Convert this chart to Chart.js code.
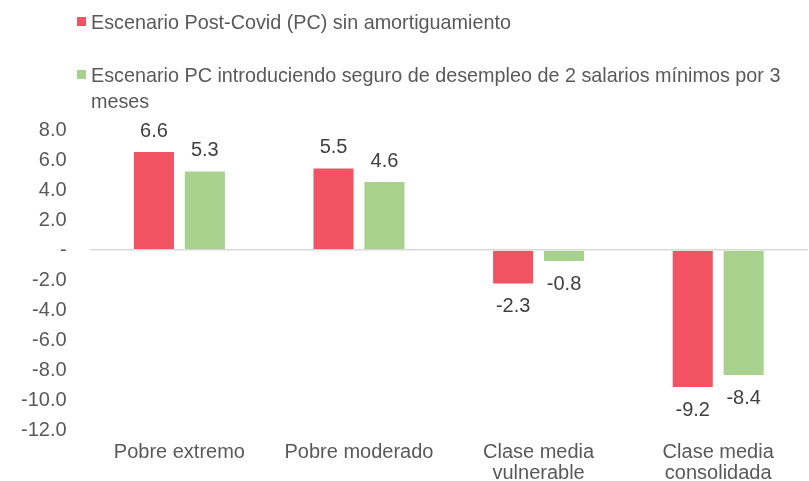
<!DOCTYPE html>
<html><head><meta charset="utf-8">
<script src="https://cdn.jsdelivr.net/npm/chart.js@4/dist/chart.umd.min.js"></script>
<style>
html,body{margin:0;padding:0;background:#fff;}
#wrap{position:relative;width:809px;height:481px;font-family:"Liberation Sans",Arial,sans-serif;color:#595959;}
canvas{position:absolute;left:0;top:0;}
.lg{position:absolute;font-size:19.8px;line-height:26px;color:#595959;}
.sw{position:absolute;width:9px;height:9px;}
</style></head>
<body><div id="wrap">
<canvas id="c" width="809" height="481"></canvas>
<div class="sw" id="sw1" style="left:77px;top:17px;"></div>
<div class="lg" id="lg1" style="left:91px;top:9px;width:710px;"></div>
<div class="sw" id="sw2" style="left:77px;top:70px;"></div>
<div class="lg" id="lg2" style="left:91px;top:62px;width:710px;"></div>
</div>
<script>
const categories = [["Pobre extremo"], ["Pobre moderado"], ["Clase media","vulnerable"], ["Clase media","consolidada"]];
const seriesNames = ["Escenario Post-Covid (PC) sin amortiguamiento", "Escenario PC introduciendo seguro de desempleo de 2 salarios mínimos por 3 meses"];
const postCovid = [6.6, 5.5, -2.3, -9.2];
const conSeguro = [5.3, 4.6, -0.8, -8.4];
const colors = ["#F25363", "#A9D18E"];

document.getElementById('lg1').textContent = seriesNames[0];
document.getElementById('lg2').textContent = seriesNames[1];
document.getElementById('sw1').style.background = colors[0];
document.getElementById('sw2').style.background = colors[1];

const FONT = '"Liberation Sans", Arial, sans-serif';
const valueLabels = {
  id: 'valueLabels',
  afterDatasetsDraw(chart) {
    const ctx = chart.ctx;
    ctx.save();
    ctx.font = '20px ' + FONT;
    ctx.fillStyle = '#404040';
    ctx.textAlign = 'center';
    ctx.textBaseline = 'middle';
    chart.data.datasets.forEach((ds, i) => {
      chart.getDatasetMeta(i).data.forEach((bar, j) => {
        const v = ds.data[j];
        const y = v >= 0 ? bar.y - 20 : bar.y + 22;
        ctx.fillText(v.toFixed(1), bar.x, y);
      });
    });
    ctx.restore();
  }
};

new Chart(document.getElementById('c'), {
  type: 'bar',
  data: {
    labels: categories,
    datasets: [
      { label: seriesNames[0], data: postCovid, backgroundColor: colors[0], borderColor: '#ffffff', borderWidth: 1, categoryPercentage: 0.567, barPercentage: 0.826 },
      { label: seriesNames[1], data: conSeguro, backgroundColor: colors[1], borderColor: '#ffffff', borderWidth: 1, categoryPercentage: 0.567, barPercentage: 0.826 }
    ]
  },
  options: {
    responsive: false,
    animation: false,
    layout: { padding: { top: 130, right: 1, left: -2, bottom: -15 } },
    plugins: { legend: { display: false }, tooltip: { enabled: false } },
    scales: {
      x: {
        grid: { display: false, drawTicks: false },
        border: { display: false },
        ticks: { color: '#595959', font: { family: FONT, size: 20, lineHeight: 1.05 }, padding: 12, maxRotation: 0 }
      },
      y: {
        min: -12, max: 8,
        grid: { color: (c) => c.tick && c.tick.value === 0 ? '#D9D9D9' : 'rgba(0,0,0,0)', lineWidth: 1.5, drawTicks: false },
        border: { display: false },
        ticks: { stepSize: 2, color: '#595959', font: { family: FONT, size: 20 }, padding: 23,
          callback: (v) => v === 0 ? '-' : v.toFixed(1) }
      }
    }
  },
  plugins: [valueLabels]
});
</script>
</body></html>
